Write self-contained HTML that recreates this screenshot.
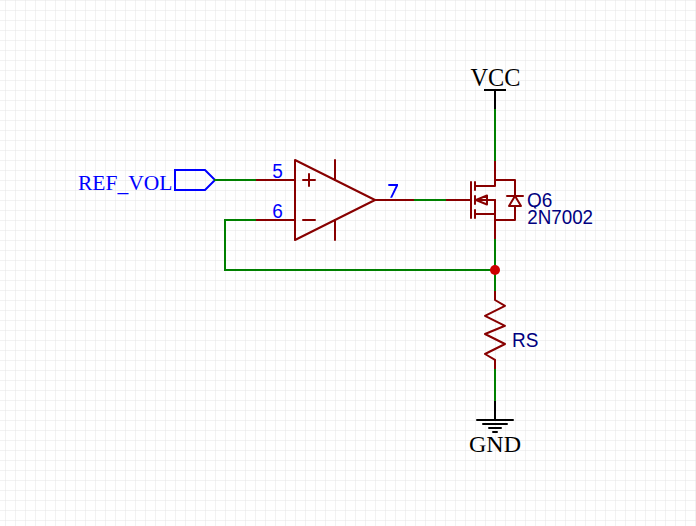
<!DOCTYPE html>
<html><head><meta charset="utf-8"><style>
html,body{margin:0;padding:0;background:#fff;width:696px;height:526px;overflow:hidden}
svg{display:block}
.sans{font-family:"Liberation Sans",sans-serif}
.serif{font-family:"Liberation Serif",serif}
</style></head><body>
<svg width="696" height="526" viewBox="0 0 696 526">
<defs><pattern id="grid" x="0" y="0" width="10" height="10" patternUnits="userSpaceOnUse">
<rect x="5" y="0" width="1" height="10" fill="#f2f2f2"/><rect x="0" y="0" width="10" height="1" fill="#f2f2f2"/><rect x="5" y="0" width="1" height="1" fill="#ebebeb"/>
</pattern></defs>
<rect x="0" y="0" width="696" height="526" fill="url(#grid)" shape-rendering="crispEdges"/>
<!-- symbols -->
<g fill="none" stroke="#880000" stroke-width="2" stroke-linecap="round" stroke-linejoin="round">
<!-- opamp -->
<path d="M295 160 L375 200 L295 240 Z"/>
<path d="M255 180 H295 M255 220 H295 M375 200 H415"/>
<path d="M335 160 V180 M335 220 V240"/>
<path d="M303 180 H315 M309 174 V186 M303 220 H315"/>
<!-- mosfet -->
<path d="M445 200 H471 M471 182 V218"/>
<path d="M475 182 V190 M475 196 V204 M475 210 V218"/>
<path d="M475 186 H495 V161 M475 214 H495 M495 180 H515 V196 M507 196 H523 M495 200 V240 M495 220 H515 V206"/>
<path d="M477 200 H495 M476 200 L487 195.5 V204.5 Z"/>
<path d="M515 196 L521 206 H509 Z"/>
<!-- resistor -->
<path d="M495 290 V300 L505 305.8 L485 315.8 L505 325.8 L485 334 L505 344 L485 354 L495 359.8 V370"/>
</g>
<g fill="none" stroke="#000000" stroke-width="2" stroke-linecap="round">
<path d="M485 90 H505" stroke-linecap="square"/><path d="M495 90 V110"/>
<path d="M495 400 V420 M477 420 H513 M483 424 H507 M489 428 H501 M493 432 H497"/>
</g>
<g fill="none" stroke="#0000ff" stroke-width="2" stroke-linejoin="miter">
<path d="M175 170 H205 L215 180 L205 190 H175 Z"/>
</g>
<!-- wires -->
<g fill="none" stroke="#008000" stroke-width="2" stroke-linecap="square">
<path d="M215 180 H255"/>
<path d="M255 220 H225 V270 H495"/>
<path d="M415 200 H445"/>
<path d="M495 110 V160"/>
<path d="M495 240 V290"/>
<path d="M495 370 V400"/>
</g>
<circle cx="495" cy="270" r="5" fill="#cc0000"/>
<text class="serif" x="78" y="190" font-size="21.5" fill="#0000ff">REF<tspan dy="1.3">_</tspan><tspan dy="-1.3">VOL</tspan></text>
<text class="serif" x="470.4" y="86" font-size="24.3" fill="#000">VCC</text>
<text class="serif" x="469" y="452" font-size="24" fill="#000">GND</text>
<g class="sans" font-size="19">
<text transform="translate(272.3,178) scale(1,1.08)" fill="#0000ff">5</text>
<text transform="translate(272.2,218.2) scale(1,1.08)" fill="#0000ff">6</text>
</g><path d="M388.3 184 H398 V185.8 L392.1 197.8 H390.1 L395.7 186 H388.3 Z" fill="#0000ff"/><g class="sans" font-size="19">
<clipPath id="qc"><rect x="520" y="185" width="40" height="23.6"/></clipPath><g clip-path="url(#qc)"><text transform="translate(527,206.7) scale(1,1.08)" fill="#000080">Q6</text></g>
<text transform="translate(527.2,224) scale(0.99,1.08)" fill="#000080">2N7002</text>
<text transform="translate(512,347) scale(1,1.08)" fill="#000080">RS</text>
</g>
</svg>
</body></html>
